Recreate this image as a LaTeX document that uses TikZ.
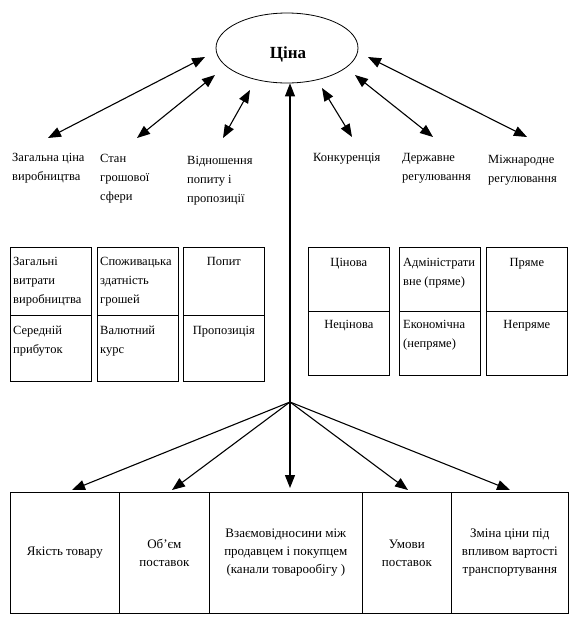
\documentclass[tikz,border=0pt]{standalone}
\usepackage{fontspec}
\setmainfont{Liberation Serif}
\usetikzlibrary{shapes.geometric, arrows.meta}

\begin{document}
\begin{tikzpicture}[x=1pt, y=-1pt,
    arr/.style={{Triangle[length=13pt,width=10pt]}-{Triangle[length=13pt,width=10pt]}, line width=1.1pt},
    tip/.style={-{Triangle[length=13pt,width=10pt]}, line width=1.1pt},
    txt/.style={inner sep=0pt, anchor=north west, align=left, font=\fontsize{12.5}{19}\selectfont},
    ctxt/.style={inner sep=0pt, anchor=north, align=center, font=\fontsize{12.5}{18}\selectfont},
    cell/.style={draw, line width=0.7pt, minimum width=81pt, anchor=north west, inner sep=0pt},
    bot/.style={draw, line width=0.7pt, minimum height=121pt, anchor=north west, inner sep=0pt,
        align=center, font=\fontsize{13}{18}\selectfont}]
  \useasboundingbox (0,0) rectangle (582,625);

  \node[draw, ellipse, line width=0.8pt, minimum width=142pt, minimum height=70pt] (price) at (287,48) {};
  \node[font=\bfseries\fontsize{17}{20}\selectfont, inner sep=0pt] (pricetxt) at (288,54) {Ціна};

  % factors round the price
  \node[txt] (cost) at (12,153) {Загальна ціна\\виробництва};
  \node[txt] (money) at (100,154) {Стан\\грошової\\сфери};
  \node[txt] (ratio) at (187,156) {Відношення\\попиту і\\пропозиції};
  \node[txt] (compet) at (313,153) {Конкуренція};
  \node[txt] (state) at (402,153) {Державне\\регулювання};
  \node[txt] (intl) at (488,155) {Міжнародне\\регулювання};

  \coordinate (p1) at (205,57);  \coordinate (f1) at (48,138);
  \coordinate (p2) at (215,75);  \coordinate (f2) at (137,138);
  \coordinate (p3) at (250,90);  \coordinate (f3) at (223,138);
  \coordinate (p4) at (322,88);  \coordinate (f4) at (352,137);
  \coordinate (p5) at (355,75);  \coordinate (f5) at (433,137);
  \coordinate (p6) at (368,57);  \coordinate (f6) at (527,137);
  \foreach \i in {1,...,6}
    \draw[arr] (p\i) -- (f\i);

  % split boxes
  \foreach \x/\n in {10/a, 97/b, 183/c} {
    \node[cell, minimum height=68pt] (up\n) at (\x,247) {};
    \node[cell, minimum height=66pt] (lo\n) at (\x,315) {};
  }
  \foreach \x/\n in {308/d, 399/e, 486/f} {
    \node[cell, minimum height=64pt] (up\n) at (\x,247) {};
    \node[cell, minimum height=64pt] (lo\n) at (\x,311) {};
  }
  \node[txt] at ([shift={(3,10)}]upa.north west) {Загальні\\витрати\\виробництва};
  \node[txt] at ([shift={(3,11)}]loa.north west) {Середній\\прибуток};
  \node[txt] at ([shift={(3,10)}]upb.north west) {Споживацька\\здатність\\грошей};
  \node[txt] at ([shift={(3,11)}]lob.north west) {Валютний\\курс};
  \node[ctxt] at ([shift={(0,10)}]upc.north) {Попит};
  \node[ctxt] at ([shift={(0,11)}]loc.north) {Пропозиція};
  \node[ctxt] at ([shift={(0,11)}]upd.north) {Цінова};
  \node[ctxt] at ([shift={(0,9)}]lod.north) {Нецінова};
  \node[txt] at ([shift={(4,11)}]upe.north west) {Адміністрати\\вне (пряме)};
  \node[txt] at ([shift={(4,9)}]loe.north west) {Економічна\\(непряме)};
  \node[ctxt] at ([shift={(0,11)}]upf.north) {Пряме};
  \node[ctxt] at ([shift={(0,9)}]lof.north) {Непряме};

  % bottom row
  \node[bot, minimum width=109pt] (qual) at (10,492) {Якість товару};
  \node[bot, minimum width=90pt] (vol) at (119,492) {Об’єм\\поставок};
  \node[bot, minimum width=153pt] (rel) at (209,492) {Взаємовідносини між\\продавцем і покупцем\\(канали товарообігу )};
  \node[bot, minimum width=89pt] (terms) at (362,492) {Умови\\поставок};
  \node[bot, minimum width=117pt] (trans) at (451,492) {Зміна ціни під\\впливом вартості\\транспортування};

  \coordinate (hub) at (290,402);
  \coordinate (t1) at (72,490);
  \coordinate (t2) at (172,490);
  \coordinate (t3) at (290,488);
  \coordinate (t4) at (408,490);
  \coordinate (t5) at (510,490);
  \draw[tip] (hub) -- (hub |- price.south);
  \foreach \i in {1,...,5}
    \draw[tip] (hub) -- (t\i);
\end{tikzpicture}
\end{document}
